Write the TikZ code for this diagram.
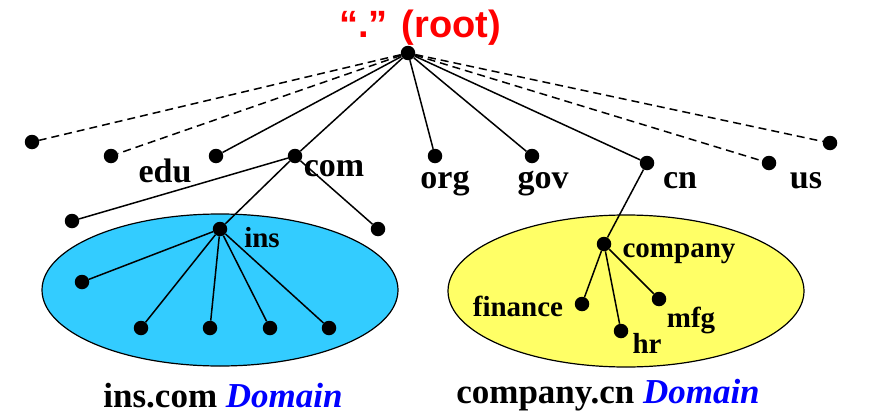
\documentclass[tikz,border=0pt]{standalone}
\usepackage{fontspec}
\setmainfont{Liberation Serif}
\newfontfamily\titlefont{Liberation Sans}
\definecolor{insblue}{RGB}{51,204,255}
\definecolor{cnyellow}{RGB}{255,255,102}
\definecolor{rootred}{RGB}{255,0,0}
\definecolor{dblue}{RGB}{0,0,255}
\begin{document}
\begin{tikzpicture}[x=1pt,y=-1pt,
  dot/.style={circle,fill=black,inner sep=0pt,minimum size=14.5pt},
  lbl/.style={font=\fontsize{34}{36}\selectfont\bfseries,inner sep=0pt,anchor=base},
  sublbl/.style={font=\fontsize{29}{31}\selectfont\bfseries,inner sep=0pt,anchor=base},
  captext/.style={font=\fontsize{35}{37}\selectfont\bfseries,inner sep=0pt,anchor=base},
  edge/.style={line width=1.5pt},
  dedge/.style={line width=1.5pt,dash pattern=on 8pt off 5pt},
  zone/.style={draw=black,line width=1.2pt}]
\useasboundingbox (0,0) rectangle (873,415);
% domains
\draw[zone,fill=insblue] (220,290) ellipse [x radius=178,y radius=76];
\draw[zone,fill=cnyellow] (626,291) ellipse [x radius=178,y radius=76];
% title
\node[font=\titlefont\fontsize{38}{40}\selectfont\bfseries,text=rootred,inner sep=0pt,anchor=base] (title) at (420,37) {“.” (root)};
% dots
\node[dot] (root) at (408,53) {};
\node[dot] (t1) at (32,142) {};
\node[dot] (t2) at (111,156) {};
\node[dot] (edu) at (216,156) {};
\node[dot] (com) at (295,156) {};
\node[dot] (org) at (435,156) {};
\node[dot] (gov) at (532,156) {};
\node[dot] (cn) at (647,163) {};
\node[dot] (us) at (769,163) {};
\node[dot] (t9) at (830,143) {};
\node[dot] (c1) at (72,221) {};
\node[dot] (ins) at (220,229) {};
\node[dot] (c3) at (378,229) {};
\node[dot] (i1) at (82,282) {};
\node[dot] (i2) at (141,328) {};
\node[dot] (i3) at (210,328) {};
\node[dot] (i4) at (270,328) {};
\node[dot] (i5) at (329,328) {};
\node[dot] (company) at (604,244) {};
\node[dot] (finance) at (582,304) {};
\node[dot] (hr) at (621,331) {};
\node[dot] (mfg) at (659,299) {};
% edges
\draw[dedge] (root) -- (t1);
\draw[dedge] (root) -- (t2);
\draw[edge] (root) -- (edu);
\draw[edge] (root) -- (com);
\draw[edge] (root) -- (org);
\draw[edge] (root) -- (gov);
\draw[edge] (root) -- (cn);
\draw[dedge] (root) -- (us);
\draw[dedge] (root) -- (t9);
\draw[edge] (com) -- (c1);
\draw[edge] (com) -- (ins);
\draw[edge] (com) -- (c3);
\foreach \n in {i1,i2,i3,i4,i5} \draw[edge] (ins) -- (\n);
\draw[edge] (cn) -- (company);
\draw[edge] (company) -- (finance);
\draw[edge] (company) -- (hr);
\draw[edge] (company) -- (mfg);
% labels
\node[lbl] (leng) at (165,182) {edu};
\node[lbl] (lcom) at (334,176) {com};
\node[lbl] (lorg) at (445,188) {org};
\node[lbl] (lgov) at (543,188) {gov};
\node[lbl] (lcn) at (680,188) {cn};
\node[lbl] (lus) at (806,188) {us};
\node[sublbl] (lins) at (262,247) {ins};
\node[sublbl] (lcompany) at (679,257) {company};
\node[sublbl] (lfin) at (518,316) {finance};
\node[sublbl] (lhr) at (647,353) {hr};
\node[sublbl] (lmfg) at (691,327) {mfg};
\node[captext] (capins) at (223,407) {ins.com \textcolor{dblue}{\itshape Domain}};
\node[captext] (capcn) at (608,403) {company.cn \textcolor{dblue}{\itshape Domain}};
\end{tikzpicture}
\end{document}
